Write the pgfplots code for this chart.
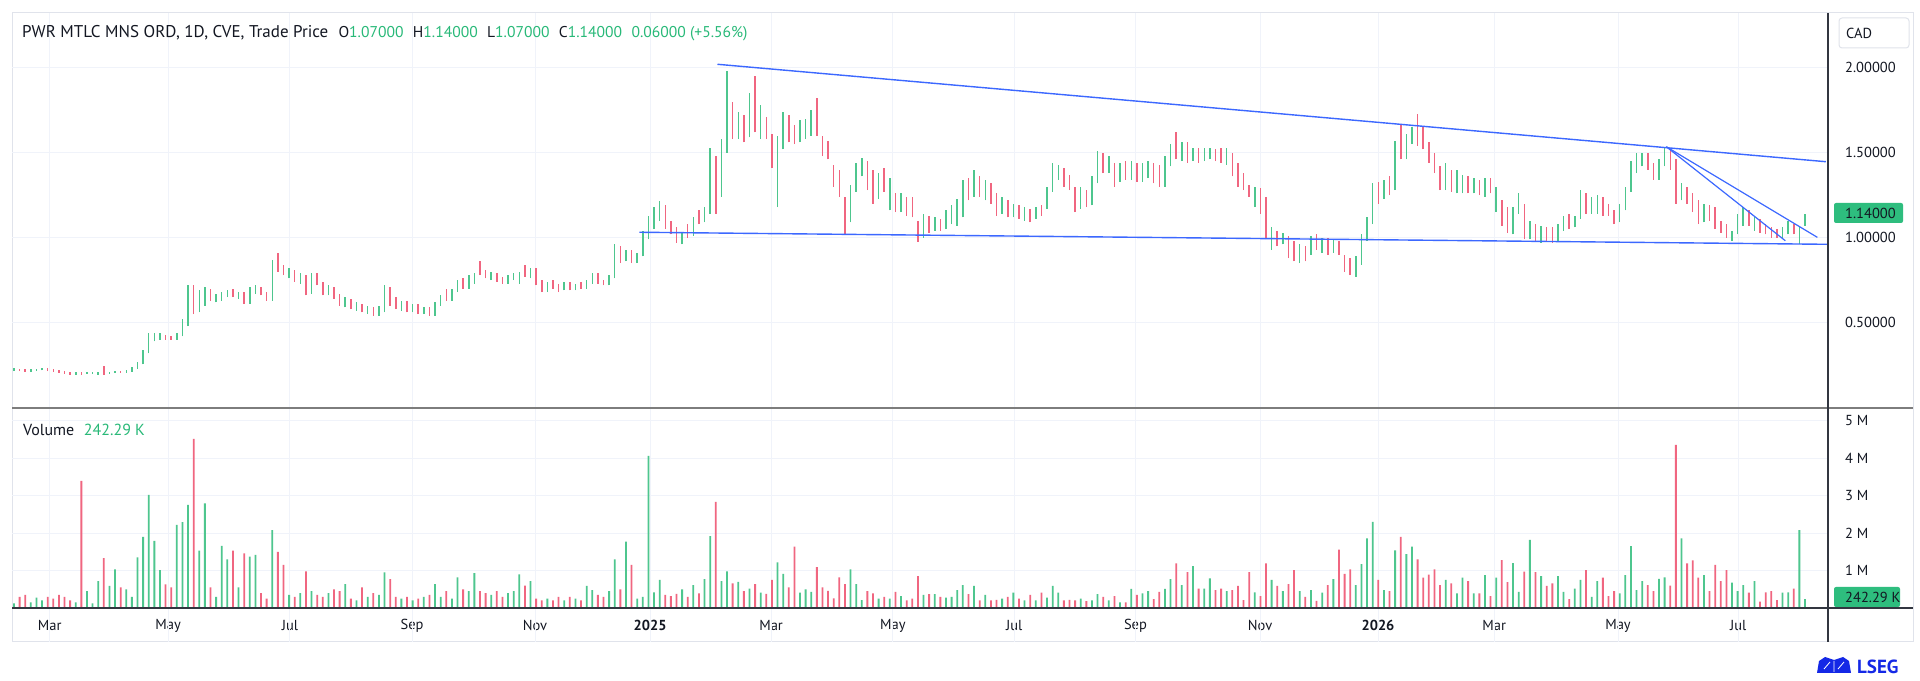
\documentclass[border=0pt]{standalone}
\usepackage{fontspec}
\setmainfont{PT Sans}
\usepackage{pgfplots}
\usepackage{pgfplotstable}
\pgfplotsset{compat=1.18}
\definecolor{upc}{RGB}{78,198,142}
\definecolor{dnc}{RGB}{240,102,128}
\definecolor{gridc}{RGB}{240,243,250}
\definecolor{framec}{RGB}{224,227,235}
\definecolor{axc}{RGB}{50,54,64}
\definecolor{sepc}{RGB}{125,125,125}
\definecolor{textc}{RGB}{19,23,34}
\definecolor{valc}{RGB}{40,185,120}
\definecolor{boxc}{RGB}{46,189,126}
\definecolor{linec}{RGB}{60,104,255}
\definecolor{lsegc}{RGB}{20,40,230}

\pgfplotstableread{
x o h l c v
0 .22 .235 .215 .225 .12
2 .225 .23 .215 .22 .30
4 .22 .225 .21 .215 .35
6 .215 .225 .21 .22 .15
8 .22 .23 .215 .225 .28
10 .225 .235 .22 .23 .20
12 .23 .235 .215 .22 .30
14 .22 .225 .21 .215 .25
16 .215 .22 .205 .21 .35
18 .21 .215 .20 .205 .30
20 .205 .21 .195 .20 .20
22 .20 .21 .195 .205 .15
24 .205 .21 .195 .20 3.39
26 .20 .21 .20 .205 .45
28 .205 .21 .20 .205 .12
30 .20 .21 .195 .205 .72
32 .215 .245 .195 .205 1.33
34 .205 .21 .20 .21 .59
36 .21 .215 .205 .212 1.03
38 .212 .215 .205 .208 .55
40 .208 .22 .205 .215 .50
42 .215 .24 .21 .235 .30
44 .235 .27 .23 .26 1.35
46 .26 .34 .255 .33 1.90
48 .33 .44 .32 .42 3.02
50 .42 .44 .39 .43 1.79
52 .41 .44 .40 .43 1.01
54 .43 .43 .40 .41 .63
56 .42 .42 .40 .41 .55
58 .41 .44 .40 .43 2.22
60 .43 .52 .42 .50 2.29
62 .50 .72 .48 .68 2.75
64 .68 .72 .55 .58 4.51
66 .58 .69 .56 .66 1.53
68 .62 .71 .60 .69 2.79
70 .69 .70 .63 .64 .55
72 .64 .67 .62 .66 .30
74 .64 .68 .63 .67 1.66
76 .66 .69 .65 .68 1.30
78 .69 .70 .65 .66 1.53
80 .66 .68 .64 .67 .55
82 .67 .68 .61 .62 1.46
84 .62 .71 .61 .69 1.37
86 .69 .72 .67 .70 1.42
88 .70 .71 .66 .67 .40
90 .67 .68 .63 .64 .25
92 .64 .87 .63 .85 2.08
94 .85 .91 .80 .82 1.50
96 .82 .84 .78 .79 1.15
98 .79 .82 .76 .80 .35
100 .80 .81 .74 .75 .30
102 .75 .79 .73 .77 .40
104 .77 .78 .66 .68 .98
106 .68 .79 .67 .77 .45
108 .77 .79 .72 .73 .35
110 .73 .74 .66 .68 .30
112 .68 .72 .66 .70 .40
114 .70 .71 .64 .65 .50
116 .65 .67 .60 .61 .45
118 .61 .65 .59 .63 .64
120 .63 .64 .58 .59 .25
122 .59 .62 .57 .60 .20
124 .60 .61 .56 .57 .55
126 .57 .60 .55 .58 .30
128 .58 .59 .54 .55 .40
130 .55 .60 .54 .58 .35
132 .57 .72 .56 .70 .95
134 .70 .71 .60 .62 .77
136 .62 .65 .58 .60 .30
138 .60 .63 .57 .62 .25
140 .62 .63 .56 .57 .30
142 .57 .61 .56 .60 .20
144 .60 .61 .55 .56 .25
146 .56 .59 .55 .58 .30
148 .58 .59 .54 .55 .35
150 .55 .62 .54 .61 .64
152 .61 .66 .60 .65 .30
154 .65 .70 .63 .64 .45
156 .64 .70 .63 .69 .25
158 .69 .75 .68 .74 .82
160 .74 .76 .70 .71 .50
162 .71 .78 .70 .77 .45
164 .74 .79 .73 .78 .93
166 .84 .86 .78 .79 .45
168 .79 .81 .76 .77 .40
170 .77 .80 .75 .78 .35
172 .78 .79 .74 .75 .45
174 .75 .77 .73 .74 .30
176 .74 .78 .73 .77 .40
178 .77 .79 .75 .78 .45
180 .74 .80 .73 .79 .90
182 .79 .84 .77 .78 .60
184 .78 .82 .76 .81 .72
186 .81 .82 .72 .73 .25
188 .73 .75 .68 .69 .20
190 .69 .74 .68 .73 .25
192 .73 .75 .70 .71 .20
194 .71 .73 .68 .70 .30
196 .70 .74 .69 .73 .20
198 .73 .74 .69 .70 .30
200 .70 .73 .69 .72 .25
202 .72 .74 .70 .71 .20
204 .71 .75 .70 .74 .59
206 .74 .79 .73 .78 .48
208 .78 .79 .73 .74 .35
210 .74 .75 .72 .73 .30
212 .73 .78 .72 .77 .45
214 .77 .96 .76 .90 1.30
216 .90 .95 .85 .88 .50
218 .88 .93 .86 .92 1.77
220 .92 .93 .85 .86 1.15
222 .86 .91 .85 .90 .25
224 .90 1.04 .89 1.00 .30
226 1.00 1.13 .99 1.12 4.06
228 1.08 1.18 1.05 1.15 .42
230 1.12 1.215 1.10 1.18 .75
232 1.18 1.19 1.05 1.07 .35
234 1.07 1.10 1.02 1.04 .32
236 1.04 1.06 .97 .99 .38
238 .99 1.03 .96 1.02 .50
240 1.04 1.08 1.00 1.02 .30
242 1.02 1.12 1.01 1.10 .61
244 1.12 1.16 1.08 1.10 .39
246 1.10 1.18 1.09 1.17 .77
248 1.17 1.53 1.14 1.45 1.92
250 1.45 1.48 1.14 1.20 2.83
252 1.25 1.58 1.24 1.55 .72
254 1.55 1.98 1.50 1.80 .98
256 1.75 1.80 1.58 1.62 .66
258 1.62 1.74 1.58 1.70 .70
260 1.70 1.72 1.56 1.60 .45
262 1.60 1.85 1.59 1.80 .52
264 1.80 1.95 1.62 1.66 .64
266 1.62 1.78 1.58 1.70 .41
268 1.70 1.71 1.58 1.60 .38
270 1.60 1.61 1.41 1.45 .75
272 1.30 1.60 1.18 1.55 1.22
274 1.55 1.74 1.52 1.70 .91
276 1.70 1.72 1.56 1.60 .55
278 1.62 1.66 1.55 1.58 1.64
280 1.58 1.69 1.56 1.66 .41
282 1.62 1.70 1.58 1.68 .50
284 1.62 1.75 1.60 1.72 .43
286 1.76 1.82 1.60 1.64 1.09
288 1.60 1.60 1.48 1.50 .55
290 1.52 1.57 1.46 1.48 .46
292 1.42 1.43 1.30 1.33 .26
294 1.36 1.40 1.24 1.27 .82
296 1.23 1.24 1.02 1.10 .64
298 1.10 1.31 1.09 1.28 1.03
300 1.28 1.44 1.27 1.40 .64
302 1.40 1.47 1.36 1.44 .21
304 1.44 1.45 1.28 1.30 .45
306 1.32 1.40 1.20 1.24 .39
308 1.24 1.38 1.23 1.35 .25
310 1.38 1.41 1.27 1.29 .30
312 1.26 1.35 1.16 1.30 .25
314 1.26 1.26 1.15 1.18 .43
316 1.18 1.26 1.15 1.22 .32
318 1.22 1.24 1.13 1.15 .20
320 1.18 1.24 1.12 1.14 .25
322 1.10 1.10 .975 1.00 .85
324 1.02 1.14 1.00 1.12 .35
326 1.12 1.13 1.03 1.05 .37
328 1.05 1.12 1.04 1.10 .37
330 1.10 1.11 1.04 1.06 .30
332 1.06 1.16 1.05 1.14 .28
334 1.10 1.19 1.08 1.16 .30
336 1.14 1.23 1.07 1.20 .48
338 1.20 1.34 1.12 1.30 .61
340 1.30 1.35 1.22 1.25 .37
342 1.25 1.40 1.24 1.37 .59
344 1.34 1.36 1.24 1.27 .20
346 1.27 1.34 1.22 1.31 .35
348 1.31 1.32 1.20 1.22 .20
350 1.22 1.26 1.13 1.16 .22
352 1.16 1.24 1.14 1.21 .25
354 1.20 1.22 1.12 1.14 .30
356 1.14 1.20 1.12 1.18 .41
358 1.18 1.19 1.11 1.13 .25
360 1.13 1.18 1.10 1.16 .20
362 1.16 1.17 1.09 1.11 .35
364 1.12 1.18 1.11 1.16 .20
366 1.16 1.19 1.13 1.14 .41
368 1.18 1.30 1.17 1.28 .28
370 1.28 1.44 1.27 1.40 .59
372 1.38 1.43 1.34 1.41 .41
374 1.40 1.41 1.30 1.32 .20
376 1.32 1.37 1.28 1.30 .22
378 1.28 1.30 1.15 1.18 .20
380 1.18 1.30 1.17 1.27 .25
382 1.27 1.28 1.18 1.20 .18
384 1.20 1.36 1.19 1.34 .20
386 1.34 1.51 1.32 1.45 .37
388 1.45 1.50 1.38 1.40 .30
390 1.40 1.48 1.38 1.46 .20
392 1.44 1.44 1.30 1.33 .32
394 1.33 1.44 1.33 1.42 .15
396 1.42 1.45 1.34 1.36 .15
398 1.36 1.45 1.34 1.43 .51
400 1.43 1.44 1.33 1.35 .35
402 1.35 1.44 1.33 1.42 .39
404 1.38 1.45 1.35 1.43 .45
406 1.43 1.44 1.32 1.35 .24
408 1.40 1.43 1.30 1.34 .43
410 1.34 1.48 1.30 1.46 .51
412 1.46 1.55 1.42 1.52 .77
414 1.55 1.62 1.46 1.48 1.19
416 1.48 1.56 1.45 1.54 .61
418 1.54 1.56 1.44 1.47 .96
420 1.47 1.53 1.45 1.52 1.12
422 1.52 1.53 1.44 1.46 .52
424 1.46 1.53 1.45 1.52 .52
426 1.50 1.53 1.46 1.51 .79
428 1.51 1.52 1.45 1.47 .48
430 1.50 1.53 1.44 1.46 .52
432 1.44 1.53 1.43 1.50 .45
434 1.50 1.50 1.36 1.40 .48
436 1.42 1.44 1.30 1.33 .59
438 1.36 1.38 1.28 1.30 .21
440 1.30 1.31 1.24 1.26 .96
442 1.24 1.30 1.18 1.28 .42
444 1.28 1.29 1.14 1.16 .32
446 1.22 1.24 .99 1.02 1.19
448 .98 1.06 .93 1.04 .75
450 1.03 1.04 .95 .97 .59
452 .97 1.03 .96 1.01 .45
454 1.00 1.01 .88 .90 .64
456 .92 .98 .86 .88 1.01
458 .88 .96 .85 .94 .45
460 .94 .95 .86 .88 .30
462 .91 1.01 .90 .99 .48
464 .99 1.02 .93 .95 .19
466 .95 1.00 .91 .98 .41
468 .98 1.00 .90 .92 .61
470 .92 .99 .91 .97 .77
472 .97 .98 .90 .92 1.56
474 .90 .90 .80 .83 .91
476 .85 .88 .78 .80 1.03
478 .80 .89 .77 .86 .61
480 .86 1.02 .84 1.00 1.17
482 1.00 1.12 .98 1.10 1.86
484 1.10 1.32 1.08 1.30 2.30
486 1.30 1.33 1.20 1.24 .75
488 1.24 1.34 1.23 1.32 .48
490 1.32 1.36 1.25 1.28 .45
492 1.30 1.57 1.28 1.52 1.54
494 1.62 1.67 1.46 1.50 1.90
496 1.50 1.61 1.46 1.58 1.44
498 1.56 1.65 1.55 1.62 1.64
500 1.64 1.73 1.54 1.58 1.30
502 1.60 1.65 1.52 1.55 .81
504 1.55 1.56 1.44 1.46 .89
506 1.48 1.50 1.38 1.40 1.03
508 1.40 1.42 1.28 1.30 .61
510 1.30 1.44 1.28 1.38 .75
512 1.38 1.40 1.27 1.30 .66
514 1.30 1.40 1.26 1.36 .39
516 1.32 1.37 1.26 1.34 .81
518 1.34 1.36 1.26 1.28 .72
520 1.28 1.35 1.26 1.33 .39
522 1.33 1.34 1.25 1.27 .39
524 1.27 1.35 1.24 1.33 .88
526 1.33 1.35 1.26 1.28 .32
528 1.20 1.30 1.15 1.27 .81
530 1.22 1.22 1.07 1.10 1.28
532 1.12 1.18 1.03 1.06 .69
534 1.06 1.18 1.02 1.15 1.20
536 1.15 1.26 1.14 1.22 .43
538 1.20 1.20 .99 1.02 .97
540 1.02 1.10 .99 1.08 1.82
542 1.07 1.08 .98 1.00 .96
544 1.00 1.07 .97 1.05 .85
546 1.05 1.06 .98 1.00 .59
548 1.03 1.06 .97 .99 .66
550 .99 1.08 .98 1.06 .85
552 1.05 1.13 1.04 1.10 .43
554 1.10 1.14 1.05 1.07 .24
556 1.07 1.13 1.06 1.12 .52
558 1.12 1.28 1.11 1.22 .75
560 1.22 1.26 1.14 1.16 1.01
562 1.16 1.24 1.14 1.22 .30
564 1.18 1.25 1.14 1.22 .72
566 1.22 1.24 1.13 1.15 .81
568 1.18 1.20 1.13 1.14 .32
570 1.14 1.16 1.08 1.10 .45
572 1.10 1.20 1.09 1.18 .39
574 1.18 1.30 1.16 1.28 .88
576 1.28 1.45 1.27 1.42 1.65
578 1.42 1.50 1.38 1.48 .48
580 1.46 1.50 1.42 1.49 .72
582 1.49 1.50 1.40 1.42 .61
584 1.42 1.44 1.34 1.36 .45
586 1.36 1.46 1.34 1.44 .78
588 1.44 1.535 1.42 1.50 .82
590 1.50 1.52 1.40 1.44 .60
592 1.44 1.46 1.20 1.26 4.35
594 1.24 1.32 1.22 1.30 1.86
596 1.30 1.30 1.20 1.22 1.19
598 1.24 1.26 1.15 1.17 1.27
600 1.18 1.22 1.08 1.10 .81
602 1.10 1.20 1.09 1.18 .88
604 1.18 1.19 1.10 1.12 .45
606 1.14 1.18 1.05 1.07 1.15
608 1.08 1.10 1.03 1.05 .72
610 1.06 1.08 1.00 1.02 1.01
612 .99 1.04 .98 1.03 .68
614 1.03 1.14 1.02 1.12 .45
616 1.10 1.18 1.07 1.15 .61
618 1.15 1.16 1.07 1.09 .41
620 1.07 1.12 1.04 1.10 .72
622 1.10 1.11 1.03 1.05 .17
624 1.06 1.08 1.02 1.03 .42
626 1.05 1.06 1.00 1.01 .45
628 1.03 1.05 1.00 1.01 .21
630 1.01 1.06 1.00 1.05 .41
632 1.03 1.10 1.02 1.08 .42
634 1.06 1.08 1.02 1.03 .52
636 .98 1.06 .96 1.02 2.08
638 1.07 1.14 1.07 1.14 .24
}\pricedata

\def\monthticks{12.7,54.9,98.3,141.8,185.6,226.6,269.7,313.1,356.3,399.5,443.9,485.9,527.3,571.4,614.2}

\begin{document}
\begin{tikzpicture}[x=1bp,y=1bp]
\useasboundingbox (0,0) rectangle (1920,681);
\fill[white] (0,0) rectangle (1920,681);
\draw[framec, line width=1bp] (12,39) rectangle (1913,668);

% ---------- price panel ----------
\begin{axis}[
  at={(12bp,273.3bp)}, anchor=south west,
  width=1816bp, height=394.4bp, scale only axis,
  xmin=-0.71, xmax=646.2, ymin=0, ymax=2.32, enlargelimits=false,
  axis line style={draw=none}, major tick length=0pt,
  xtick/.expanded=\monthticks, xticklabels={}, xmajorgrids,
  ytick={0.5,1,1.5,2}, yticklabels={0.50000,1.00000,1.50000,2.00000}, ymajorgrids,
  yticklabel pos=right,
  yticklabel style={anchor=west, inner sep=0pt, xshift=17bp, text=textc,
    font=\fontsize{14.5bp}{16bp}\selectfont},
  grid style={gridc, line width=1bp},
]
\addplot[upc, line width=1.5bp, line cap=butt, mark=none,
  quiver={u=0, v=\thisrow{h}-\thisrow{l}},
  restrict expr to domain={\thisrow{c}-\thisrow{o}}{0:10}]
  table[x=x, y=l] \pricedata;
\addplot[dnc, line width=1.5bp, line cap=butt, mark=none,
  quiver={u=0, v=\thisrow{h}-\thisrow{l}},
  restrict expr to domain={\thisrow{c}-\thisrow{o}}{-10:-0.0001}]
  table[x=x, y=l] \pricedata;
% trend lines
\addplot[linec, line width=1.4bp, mark=none] coordinates {(250.6,2.02) (645.4,1.447)};
\addplot[linec, line width=1.4bp, mark=none] coordinates {(222.8,1.032) (646.4,0.961)};
\addplot[linec, line width=1.2bp, mark=none] coordinates {(588.6,1.535) (631.0,0.982)};
\addplot[linec, line width=1.2bp, mark=none] coordinates {(588.6,1.535) (642.4,1.002)};
\end{axis}

% ---------- volume panel ----------
\begin{axis}[
  at={(12bp,73bp)}, anchor=south west,
  width=1816bp, height=199bp, scale only axis,
  xmin=-0.71, xmax=646.2, ymin=0, ymax=5.31, enlargelimits=false,
  axis line style={draw=none}, major tick length=0pt,
  xtick/.expanded=\monthticks,
  xticklabels={Mar,May,Jul,Sep,Nov,\textbf{2025},Mar,May,Jul,Sep,Nov,\textbf{2026},Mar,May,Jul},
  xmajorgrids,
  xticklabel style={anchor=center, yshift=-17.7bp, text=textc,
    font=\fontsize{14.5bp}{16bp}\selectfont},
  ytick={1,2,3,4,5}, yticklabels={1 M,2 M,3 M,4 M,5 M}, ymajorgrids,
  yticklabel pos=right,
  yticklabel style={anchor=west, inner sep=0pt, xshift=17bp, text=textc,
    font=\fontsize{14.5bp}{16bp}\selectfont},
  grid style={gridc, line width=1bp},
  clip=false,
]
\pgfplotsinvokeforeach{12.7,54.9,98.3,141.8,185.6,226.6,269.7,313.1,356.3,399.5,443.9,485.9,527.3,571.4,614.2}{
  \draw[gridc, line width=1bp] (axis cs:#1,0) -- ++(0bp,-34bp);
}
\addplot[ybar, bar width=1.8bp, bar shift=0pt, fill=upc, draw=none,
  restrict expr to domain={\thisrow{c}-\thisrow{o}}{0:10}]
  table[x=x, y=v] \pricedata;
\addplot[ybar, bar width=1.8bp, bar shift=0pt, fill=dnc, draw=none,
  restrict expr to domain={\thisrow{c}-\thisrow{o}}{-10:-0.0001}]
  table[x=x, y=v] \pricedata;
\end{axis}

% axis lines and separators
\draw[sepc, line width=2bp] (12,273) -- (1913,273);
\draw[axc, line width=1.2bp] (12,73) -- (1913,73);
\draw[axc, line width=1.2bp] (1828,39) -- (1828,668);

% title
\node[anchor=west, inner sep=0pt, text=textc] at (22,648)
 {\fontsize{17bp}{20bp}\selectfont PWR MTLC MNS ORD, 1D, CVE, Trade Price\hspace{0.6em}\fontsize{15.6bp}{20bp}\selectfont O\textcolor{valc}{1.07000}\hspace{0.6em}H\textcolor{valc}{1.14000}\hspace{0.6em}L\textcolor{valc}{1.07000}\hspace{0.6em}C\textcolor{valc}{1.14000}\hspace{0.6em}\textcolor{valc}{0.06000 (+5.56\%)}};
\node[anchor=west, inner sep=0pt, text=textc, font=\fontsize{16bp}{18bp}\selectfont] at (23,251)
 {Volume\hspace{0.6em}\textcolor{valc}{242.29 K}};

% CAD box
\draw[framec, line width=1bp, fill=white, rounded corners=3bp] (1839,633) rectangle (1909,663);
\node[anchor=west, inner sep=0pt, text=textc, font=\fontsize{14.5bp}{16bp}\selectfont] at (1846,648) {CAD};

% last price box
\fill[boxc, rounded corners=2bp] (1834,458) rectangle (1903,478);
\node[anchor=west, inner sep=0pt, text=textc, font=\fontsize{14.5bp}{16bp}\selectfont] at (1845,468) {1.14000};
% last volume box
\fill[boxc, rounded corners=2bp] (1834,74) rectangle (1900,94);
\node[anchor=west, inner sep=0pt, text=textc, font=\fontsize{14.5bp}{16bp}\selectfont] at (1845,84) {242.29 K};

% LSEG mark
\fill[lsegc] (1817,8) -- (1851,8) -- (1849,20) -- (1843,24) -- (1834,21) -- (1825,24) -- (1819,20) -- cycle;
\draw[white, line width=0.8bp] (1824,12) -- (1830,19) (1838,12) -- (1844,19) (1834,9) -- (1834,20);
\node[anchor=west, inner sep=0pt, text=lsegc, font=\bfseries\fontsize{19bp}{20bp}\selectfont] at (1857,14) {LSEG};
\end{tikzpicture}
\end{document}
